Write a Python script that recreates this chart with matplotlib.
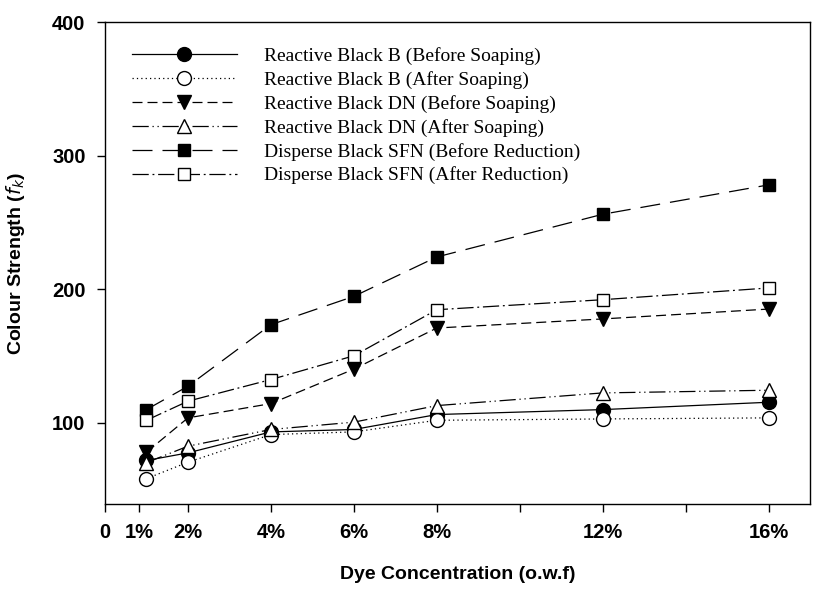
import numpy as np
import matplotlib
matplotlib.use('Agg')
import matplotlib.pyplot as plt

# dye concentration (% o.w.f)
conc = [1, 2, 4, 6, 8, 12, 16]

rb_before = [71.6, 77.3, 93.0, 94.8, 106.0, 109.7, 115.2]
rb_after = [58.0, 70.3, 91.0, 93.0, 101.7, 102.7, 103.5]
rdn_before = [77.8, 103.5, 114.2, 140.0, 170.8, 177.6, 185.0]
rdn_after = [70.0, 82.3, 94.8, 100.3, 112.7, 122.2, 124.2]
sfn_before = [109.7, 127.2, 173.3, 194.5, 224.0, 256.0, 278.0]
sfn_after = [101.7, 116.0, 132.2, 150.0, 184.5, 192.0, 200.8]

tick_pos = [0, 0.83, 2, 4, 6, 8, 10, 12, 14, 16]
tick_lab = ['0', '1%', '2%', '4%', '6%', '8%', '', '12%', '', '16%']

sans = ['Liberation Sans', 'DejaVu Sans']
serif = ['Liberation Serif', 'DejaVu Serif']

fig = plt.figure(figsize=(8.17, 5.89), dpi=100)
ax = fig.add_axes([105/817, 1 - 504/589, (810-105)/817, (504-22)/589])

ms = 10
lw = 0.9
ax.plot(conc, rb_before, '-', color='black', lw=lw, marker='o', ms=ms,
        mfc='black', mec='black', label='Reactive Black B (Before Soaping)')
ax.plot(conc, rb_after, color='black', lw=lw, ls=(0, (1, 2.5)), marker='o', ms=ms,
        mfc='white', mec='black', label='Reactive Black B (After Soaping)')
ax.plot(conc, rdn_before, color='black', lw=lw, ls=(0, (8, 4)), marker='v', ms=ms,
        mfc='black', mec='black', label='Reactive Black DN (Before Soaping)')
ax.plot(conc, rdn_after, color='black', lw=lw, ls=(0, (13, 3, 1, 3, 1, 3)), marker='^', ms=ms,
        mfc='white', mec='black', label='Reactive Black DN (After Soaping)')
ax.plot(conc, sfn_before, color='black', lw=lw, ls=(0, (16, 8)), marker='s', ms=ms - 1,
        mfc='black', mec='black', label='Disperse Black SFN (Before Reduction)')
ax.plot(conc, sfn_after, color='black', lw=lw, ls=(0, (13, 3, 1.5, 3)), marker='s', ms=ms - 1,
        mfc='white', mec='black', label='Disperse Black SFN (After Reduction)')

ax.set_xlim(0, 17)
ax.set_ylim(39, 400)
ax.set_yticks([100, 200, 300, 400])
ax.set_xticks(tick_pos)
ax.set_xticklabels(tick_lab)
ax.tick_params(direction='out', length=6, width=1, pad=8)

for t in ax.get_xticklabels() + ax.get_yticklabels():
    t.set_family(sans)
    t.set_fontweight('bold')
    t.set_fontsize(14.5)

ax.set_xlabel('Dye Concentration (o.w.f)', family=sans, fontweight='bold',
              fontsize=14, labelpad=17)
ax.set_ylabel(r'Colour Strength ($\mathbf{\mathit{f_k}}$)', family=sans, fontweight='bold',
              fontsize=14, labelpad=18)

leg = ax.legend(loc='upper left', bbox_to_anchor=(0.013, 0.985), frameon=False,
                handlelength=5.4, handletextpad=1.4, labelspacing=0.31,
                prop={'family': serif, 'size': 14})

for sp in ax.spines.values():
    sp.set_linewidth(1)

plt.savefig('out.png', dpi=100)
